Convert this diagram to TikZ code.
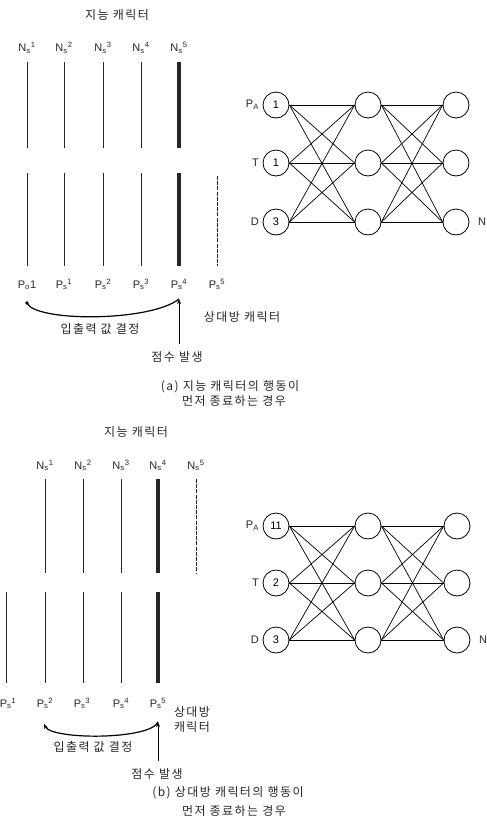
\documentclass[tikz,border=0pt]{standalone}
\usepackage{amsmath}
\usepackage{fontspec}
\setmainfont{Liberation Sans}
\newfontfamily\kr[LetterSpace=12]{Noto Sans CJK KR}
\usepackage{tikz}
\usetikzlibrary{arrows.meta,positioning}

\newcommand{\Nlab}[1]{N\textsubscript{s}\textsuperscript{#1}}
\newcommand{\Plab}[1]{P\textsubscript{s}\textsuperscript{#1}}

\begin{document}
\begin{tikzpicture}[x=1pt,y=-1pt,
  lab/.style={inner sep=0.5pt,anchor=base,font=\fontsize{11}{13}\selectfont,text=black!85},
  kor/.style={inner sep=0.5pt,font=\kr\fontsize{12}{14}\selectfont,text=black!85},
  seg/.style={line width=1pt,draw=black!85},
  boldseg/.style={line width=3.6pt},
  dashseg/.style={line width=0.8pt,dash pattern=on 4pt off 1.2pt},
  neuron/.style={circle,draw,line width=0.8pt,minimum size=26pt,inner sep=0pt,font=\fontsize{11}{13}\selectfont},
  syn/.style={line width=0.7pt},
  uptip/.style={-{Stealth[length=5pt,width=4pt]}}]
\useasboundingbox (0,0) rectangle (487,823);

% (a) timeline
\node (titA) [kor] at (117,15) {지능 캐릭터};
\foreach \i/\x in {1/27,2/64,3/103,4/141,5/179}
  \node (na\i) [lab] at (\x,51.5) {\Nlab{\i}};
\foreach \x in {27,64,103,141} {\draw[seg] (\x,62)--(\x,148); \draw[seg] (\x,173)--(\x,266);}
\draw[seg,boldseg] (179,62)--(179,148); \draw[seg,boldseg] (179,173)--(179,266);
\draw[seg,dashseg] (217,176)--(217,266);
\node (pa0) [lab] at (27,288) {P\textsubscript{o}1};
\foreach \i/\x in {1/64,2/103,3/141,4/179,5/217}
  \node (pa\i) [lab] at (\x,288) {\Plab{\i}};
\node (opA) [kor] at (242,317) {상대방 캐릭터};
\node (ioA) [kor] at (100,329) {입출력 값 결정};
\node (scA) [kor] at (177,357) {점수 발생};
\coordinate (sa) at (27,303);
\coordinate (ea) at (179,299);
\fill (sa) circle (1.8pt);
\draw[line width=1.2pt] (sa) .. controls (35,322) and (150,322) .. (ea);
\draw[uptip,line width=0.9pt,shorten <=7pt] (scA.north -| ea) -- (ea);
\node (capA1) [kor] at (230,387) {(a) 지능 캐릭터의 행동이};
\node (capA2) [kor] at (234,401) {먼저 종료하는 경우};

% (a) network
\foreach \r/\y/\v/\l in {1/105/1/P\textsubscript{A},2/163/1/T,3/222/3/D} {
  \node (ia\r) [neuron] at (276,\y) {\v};
  \node (ha\r) [neuron] at (368,\y) {};
  \node (oa\r) [neuron] at (456,\y) {};
  \node (la\r) [lab,anchor=east,left=3pt of ia\r] {\l};
}
\node (nA) [lab,anchor=west,right=8pt of oa3] {N};
\foreach \i in {1,2,3} \foreach \j in {1,2,3} {
  \draw[syn] (ia\i.east) -- (ha\j.west);
  \draw[syn] (ha\i.east) -- (oa\j.west);
}

% (b) timeline
\node (titB) [kor] at (136,432) {지능 캐릭터};
\foreach \i/\x in {1/45,2/83,3/121,4/158,5/196}
  \node (nb\i) [lab] at (\x,469) {\Nlab{\i}};
\foreach \x in {45,83,121} \draw[seg] (\x,479)--(\x,573);
\draw[seg,boldseg] (158,479)--(158,573);
\draw[seg,dashseg] (196,479)--(196,573);
\foreach \x in {6,45,83,121} \draw[seg] (\x,592)--(\x,683);
\draw[seg,boldseg] (158,592)--(158,683);
\foreach \i/\x in {1/8,2/45,3/82,4/121,5/158}
  \node (pb\i) [lab] at (\x,707) {\Plab{\i}};
\node (opB1) [kor] at (192,712) {상대방};
\node (opB2) [kor] at (192,727) {캐릭터};
\node (ioB) [kor] at (93,747) {입출력 값 결정};
\node (scB) [kor] at (157,774) {점수 발생};
\coordinate (sb) at (158,722);
\coordinate (eb) at (44,724);
\draw[uptip,line width=1.2pt] (sb) .. controls (150,740) and (52,740) .. (eb);
\draw[uptip,line width=0.9pt,shorten <=7pt] (scB.north -| sb) -- (sb);
\node (capB1) [kor] at (228,793) {(b) 상대방 캐릭터의 행동이};
\node (capB2) [kor] at (234,811) {먼저 종료하는 경우};

% (b) network
\foreach \r/\y/\v/\l in {1/526/11/P\textsubscript{A},2/583/2/T,3/640/3/D} {
  \node (ib\r) [neuron] at (276,\y) {\v};
  \node (hb\r) [neuron] at (368,\y) {};
  \node (ob\r) [neuron] at (457,\y) {};
  \node (lb\r) [lab,anchor=east,left=3pt of ib\r] {\l};
}
\node (nB) [lab,anchor=west,right=8pt of ob3] {N};
\foreach \i in {1,2,3} \foreach \j in {1,2,3} {
  \draw[syn] (ib\i.east) -- (hb\j.west);
  \draw[syn] (hb\i.east) -- (ob\j.west);
}
\end{tikzpicture}
\end{document}
